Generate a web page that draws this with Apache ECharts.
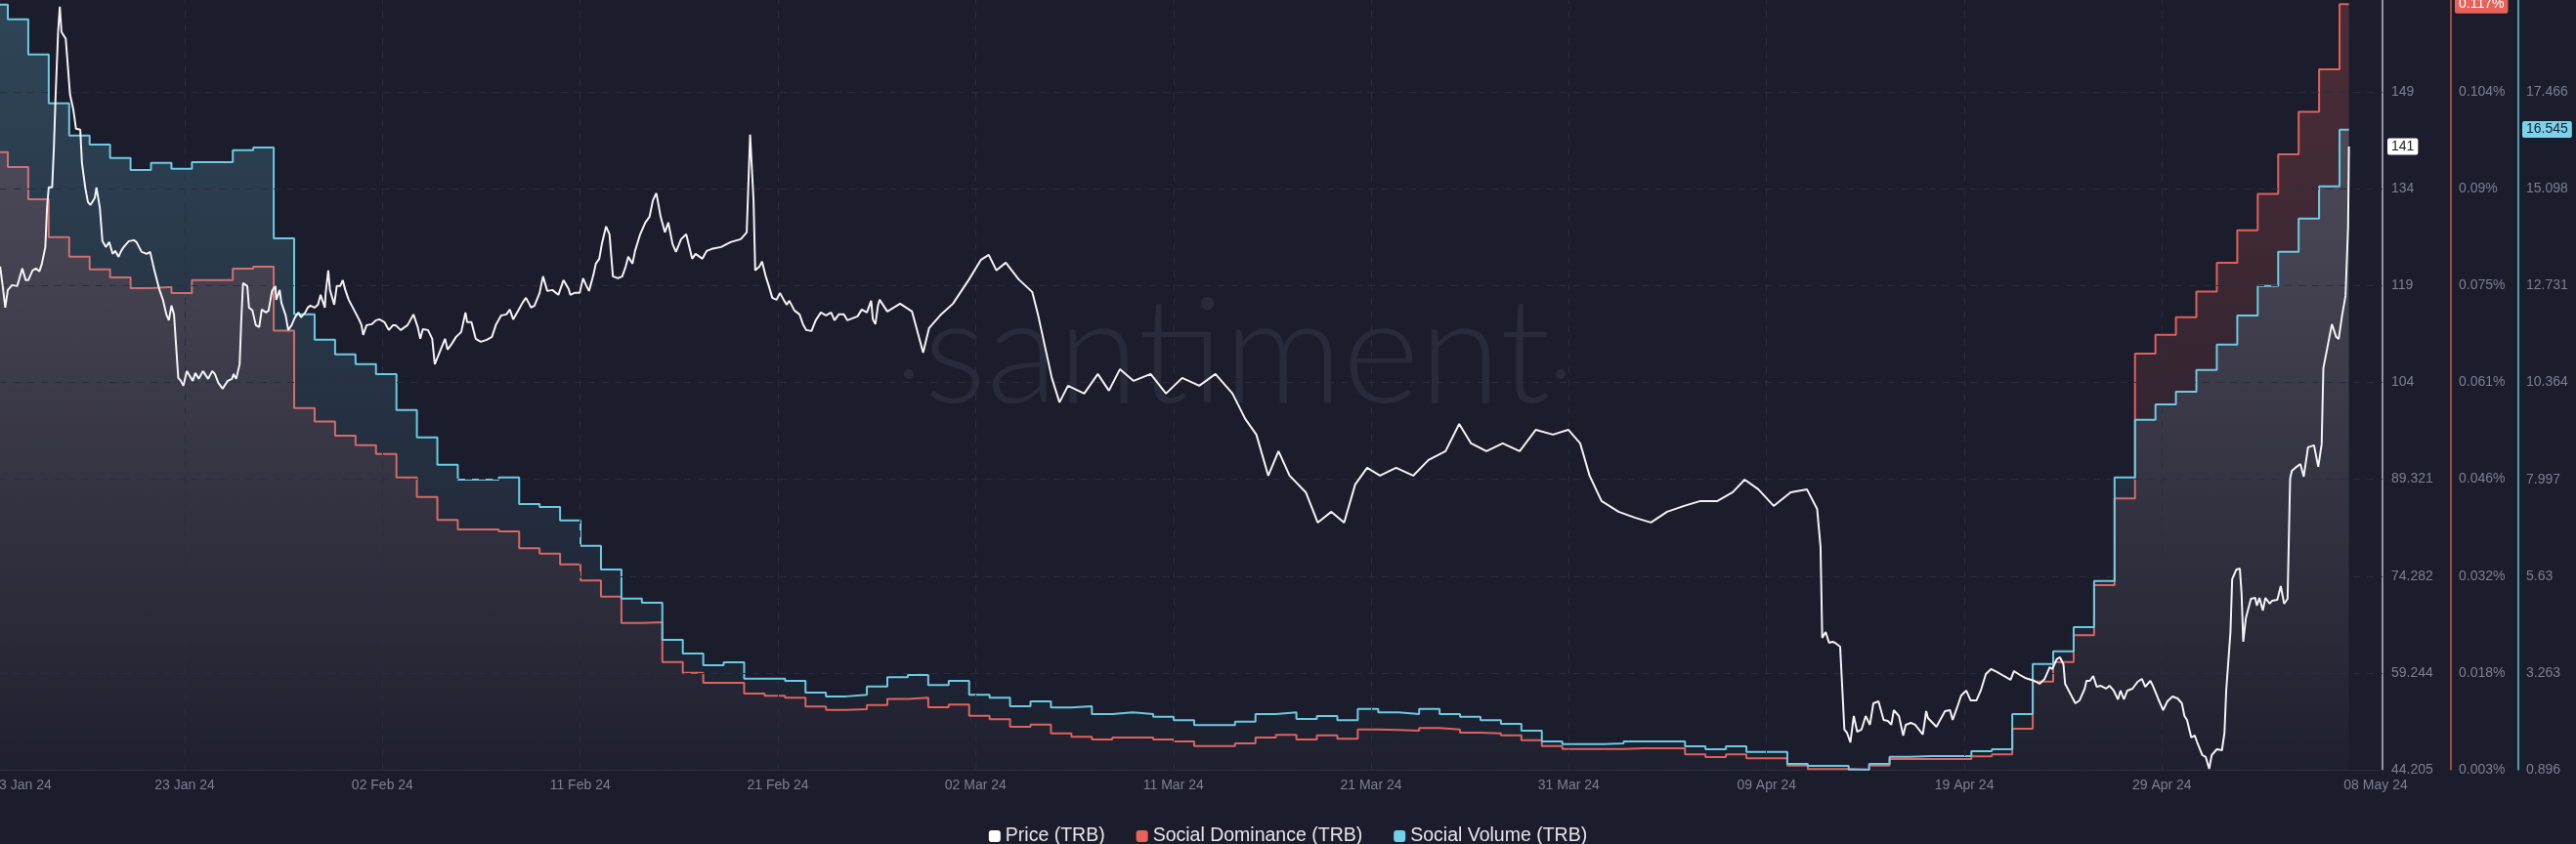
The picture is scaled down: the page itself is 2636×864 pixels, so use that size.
<!DOCTYPE html>
<html><head><meta charset="utf-8">
<script src="https://cdn.jsdelivr.net/npm/echarts@6.0.0/dist/echarts.min.js"></script>
<style>html,body{margin:0;padding:0;background:#1b1d2c;overflow:hidden}#c{width:2636px;height:864px}</style>
</head><body><div id="c"></div>
<script>
// Time is measured in hours from 13 Jan 2024 00:00
const xLabels = ['13 Jan 24','23 Jan 24','02 Feb 24','11 Feb 24','21 Feb 24','02 Mar 24','11 Mar 24','21 Mar 24','31 Mar 24','09 Apr 24','19 Apr 24','29 Apr 24','08 May 24'];
const xLabelHours = [40, 231.6, 463.6, 695.6, 927.6, 1159.6, 1391.7, 1623.6, 1855.6, 2087.7, 2319.7, 2551.6, 2802.4];

const priceTicks = [44.205, 59.244, 74.282, 89.321, 104.36, 119.40, 134.44, 149.47];
const domTicks = [0.0033, 0.01768, 0.03206, 0.04644, 0.06082, 0.0752, 0.08958, 0.10396];
const volTicks = [0.896, 3.263, 5.63, 7.997, 10.364, 12.731, 15.098, 17.466];
const priceMax = 163.75, domMax = 0.11761, volMax = 19.714;

// daily values, day 0 = 13 Jan 2024
const volumeDaily = [19.60,19.24,18.38,17.19,16.40,16.18,15.85,15.56,15.73,15.59,
15.75,15.75,16.04,16.11,13.89,12.03,11.41,11.05,10.81,10.57,
9.69,9.02,8.35,7.99,7.99,8.04,7.39,7.32,6.99,6.37,
5.79,5.08,4.98,4.07,3.74,3.45,3.52,3.12,3.12,3.07,
2.78,2.69,2.73,2.93,3.16,3.21,2.97,3.07,2.73,2.66,
2.45,2.57,2.42,2.45,2.26,2.30,2.26,2.19,2.11,1.99,
1.99,2.07,2.26,2.30,2.14,2.21,2.11,2.38,2.30,2.26,
2.38,2.26,2.19,2.11,2.02,1.85,1.59,1.52,1.52,1.54,
1.59,1.59,1.59,1.47,1.40,1.47,1.33,1.33,1.04,0.99,
0.99,0.90,1.04,1.21,1.23,1.23,1.23,1.35,1.40,2.26,
3.48,3.79,4.38,5.51,8.04,9.45,9.83,10.14,10.67,11.29,
12.00,12.72,13.56,14.37,15.16,16.545];

const dominanceDaily = [0.0950,0.0928,0.0880,0.0824,0.0795,0.0776,0.0764,0.0748,0.0750,0.0741,
0.0760,0.0760,0.0777,0.0780,0.0685,0.0570,0.0550,0.0529,0.0515,0.0502,
0.0467,0.0438,0.0404,0.0390,0.0390,0.0387,0.0362,0.0354,0.0338,0.0314,
0.0290,0.0251,0.0252,0.0193,0.0177,0.0162,0.0162,0.0146,0.0143,0.0140,
0.0127,0.0122,0.0123,0.0129,0.0138,0.0140,0.0126,0.0130,0.0113,0.0108,
0.0097,0.0100,0.0087,0.0082,0.0078,0.0081,0.0081,0.0078,0.0075,0.0068,
0.0068,0.0072,0.0081,0.0085,0.0078,0.0084,0.0079,0.0093,0.0092,0.0091,
0.0095,0.0093,0.0088,0.0087,0.0084,0.0077,0.0068,0.0064,0.0064,0.0064,
0.0065,0.0065,0.0065,0.0056,0.0052,0.0056,0.0050,0.0050,0.0039,0.0034,
0.0034,0.0033,0.0039,0.0049,0.0049,0.0049,0.0049,0.0053,0.0056,0.0094,
0.0164,0.0193,0.0233,0.0307,0.0436,0.0651,0.0679,0.0705,0.0743,0.0786,
0.0834,0.0888,0.0947,0.1010,0.1073,0.1170];
const socialEndHour = 2771;

const priceHours = [15,18,21,24,29,35,41,45,48,53,57,61,64,68,70,72,76,78,80,83,85,87,92,93,97,101,104,109,111,115,118,121,126,128,132,135,139,143,147,150,154,157,160,166,172,175,181,187,191,196,202,206,210,213,216,219,224,227,230,234,236,241,244,248,253,259,264,267,271,276,282,287,289,292,296,298,300,305,307,311,315,319,322,327,330,334,338,339,343,345,350,353,357,361,365,368,373,376,379,384,388,391,396,397,400,402,407,410,414,417,420,424,430,436,439,441,445,451,456,460,466,471,476,479,485,493,500,505,508,511,517,522,525,531,537,540,545,550,556,561,563,568,573,579,586,592,597,603,609,613,617,623,628,632,638,642,648,652,657,663,670,676,682,684,689,695,699,703,706,711,714,718,721,
726,730,734,740,745,749,752,757,760,766,772,777,781,785,790,795,799,804,808,814,820,827,831,839,844,850,861,872,884,891,895,899,901,906,909,913,917,921,926,930,935,938,941,947,953,957,961,967,972,978,984,990,994,999,1005,1009,1015,1021,1026,1032,1037,1039,1042,1045,1047,
1056,1071,1085,1098,1105,1118,1133,1152,1166,1175,1184,1195,1210,1226,1233,1249,1258,1268,1287,1303,1316,1329,1345,1365,1383,1402,1422,1441,1461,1476,1489,1503,1515,1528,1547,1561,1577,1592,1605,1619,1634,1653,1673,1691,1711,1727,1741,1759,1778,1798,1817,1837,1855,1869,1880,1894,1914,1933,1952,1971,1991,2010,2030,2048,2062,2078,2096,2116,2135,2147,
2151,2153,2157,2161,2165,2168,2174,2179,2182,2186,2190,2194,2199,2204,2209,2213,2219,2225,2230,2234,2237,2243,2248,2251,2257,2262,2271,2275,2277,2287,2297,2303,2306,2311,2316,2322,2327,2334,2339,2345,2351,2358,2366,2374,2378,2385,2391,2402,2408,2414,2420,2423,2428,2432,2436,2438,2444,2450,2455,2461,2463,2467,2471,2475,2480,2486,2490,2495,2500,2503,2507,2511,2517,2523,2528,2532,2538,2541,2547,2553,2558,2564,2570,2575,2578,2581,2586,2590,2593,2599,2603,2607,2610,2616,2622,2625,2627,2632,2634,2639,2643,2645,2647,2650,2656,2661,2663,2666,2670,2673,2678,2681,2687,2691,2695,2699,2702,2704,2708,2714,2718,2723,2730,2735,2739,2741,2747,2751,2756,2759,2763,2767,2770,2771];

const priceValues = [122.36,119.32,115.98,118.71,119.47,119.32,122.05,120.23,120.23,121.75,122.05,121.60,122.81,125.39,131.46,134.65,134.65,140.57,148.61,158.78,162.72,158.78,157.71,157.41,149.06,146.64,143.75,143.60,138.44,134.49,132.37,131.92,132.98,134.65,131.46,126.30,125.39,126.15,124.33,124.78,123.87,124.78,125.39,126.30,126.45,126.15,124.63,124.33,124.63,121.75,118.71,117.20,114.92,114.01,116.29,114.92,105.06,104.60,103.84,106.12,105.82,104.60,105.82,104.91,106.12,104.91,106.12,105.66,104.30,103.39,104.60,104.91,105.66,104.91,107.18,114.16,119.78,119.32,115.98,115.53,113.25,112.95,115.68,115.22,115.53,118.56,119.32,117.20,118.71,116.74,114.77,112.49,113.25,114.47,115.22,114.47,115.22,115.98,116.29,115.98,116.44,117.96,115.98,118.26,121.75,118.71,116.44,119.32,119.32,120.23,118.71,117.20,115.68,114.16,113.25,111.73,113.25,113.40,114.01,114.16,113.71,112.49,113.25,113.25,112.49,113.25,114.92,112.95,111.13,112.64,112.49,111.13,107.18,109.15,111.13,109.46,110.37,111.43,112.19,115.22,113.71,113.71,111.13,110.67,110.97,111.43,113.40,114.77,114.92,115.68,114.16,115.53,116.74,117.50,115.98,116.29,118.26,120.84,118.56,118.71,117.96,120.23,118.87,117.96,118.26,118.26,120.53,119.32,118.56,120.99,122.81,123.57,125.85,
128.58,127.37,120.84,120.53,120.84,122.36,123.87,122.81,124.78,127.37,129.19,130.10,132.67,133.74,130.10,127.67,129.19,125.85,124.63,126.60,127.37,123.57,124.33,123.57,124.78,125.09,125.39,126.15,126.60,127.67,142.84,132.67,121.75,122.36,123.12,120.99,119.32,117.50,117.20,118.26,117.04,116.44,117.04,115.53,114.92,113.40,112.49,112.34,114.01,115.22,114.77,115.22,114.01,114.92,114.92,114.01,114.31,114.62,115.68,115.22,117.04,114.16,113.40,116.29,117.20,
115.37,116.59,115.37,109.00,112.80,114.77,116.59,120.38,123.42,124.18,121.75,122.96,120.38,118.41,114.77,105.06,101.26,103.84,102.63,105.66,103.09,106.42,104.60,105.66,102.63,105.06,103.84,105.66,102.63,98.68,96.26,89.88,93.68,89.88,87.30,82.60,84.27,82.60,88.52,91.10,89.88,91.10,89.88,92.31,93.68,97.92,94.89,93.68,94.89,93.68,97.01,96.26,97.01,94.89,89.88,85.94,84.27,83.36,82.60,84.27,85.18,85.94,85.94,87.30,89.27,87.76,85.18,87.30,87.76,84.72,
78.80,64.69,65.60,63.93,64.08,63.93,63.33,50.43,49.97,48.45,52.55,50.12,50.43,52.55,51.19,54.52,54.83,51.94,51.79,51.19,53.46,52.55,49.52,51.19,51.49,51.19,49.67,53.31,52.25,50.88,53.31,53.46,51.94,53.77,55.74,56.50,54.98,54.98,56.50,59.08,59.84,59.38,58.77,58.17,59.53,58.92,58.47,58.01,57.56,58.32,60.14,59.84,61.35,61.66,60.59,57.56,56.04,54.52,54.98,56.80,58.01,58.01,58.77,57.10,57.25,56.80,57.25,56.50,55.13,56.50,55.13,56.50,56.80,57.86,58.32,57.10,58.01,57.25,55.28,53.46,54.83,55.59,55.28,54.52,52.55,51.94,49.21,49.52,48.45,46.48,46.18,44.36,46.48,47.39,47.24,49.97,56.50,65.60,73.80,75.31,75.46,71.67,64.08,67.73,70.76,70.91,69.70,70.91,68.94,70.91,70.00,70.46,70.61,72.73,70.00,70.76,89.43,90.64,91.10,91.70,89.73,94.28,94.59,91.25,94.74,106.57,110.67,113.40,111.43,111.13,114.77,117.80,128.43,141];

const BG = '#1b1d2c';
const LABEL = '#7b8093';
const GRIDC = '#2a2d3f';
const FONT = 'Liberation Sans, Arial, sans-serif';

function nearestLabel(v){let b=0;for(let i=1;i<xLabelHours.length;i++){if(Math.abs(xLabelHours[i]-v)<Math.abs(xLabelHours[b]-v))b=i;}return xLabels[b];}
function fmtPrice(v){return v>=100?String(Math.floor(v)):(+v.toFixed(3)).toString();}
function fmtDom(v){return (+v.toFixed(3)).toString()+'%';}
function fmtVol(v){return (+v.toFixed(3)).toString();}

function stepData(arr){const d=arr.map((v,k)=>[k*24,v]);d.push([socialEndHour,arr[arr.length-1]]);return d;}
const priceData = priceHours.map((h,i)=>[h,priceValues[i]]);

function grad(r,g,b){return new echarts.graphic.LinearGradient(0,0,0,1,[{offset:0,color:`rgba(${r},${g},${b},0.34)`},{offset:1,color:`rgba(${r},${g},${b},0.02)`}]);}

const chart = echarts.init(document.getElementById('c'),null,{renderer:'canvas'});
const badge = (bg,fg,dist,fmt)=>({show:true,position:'end',distance:dist,formatter:fmt,backgroundColor:bg,color:fg,fontSize:14,fontFamily:FONT,padding:[2,4,1,4],borderRadius:2});
const hidden = {color:'rgba(0,0,0,0)',width:0};
const wm = '#282b3b';

chart.setOption({
  backgroundColor: BG,
  animation:false,
  textStyle:{fontFamily:FONT},
  grid:{left:0,right:198,top:0,bottom:76,containLabel:false,outerBoundsMode:'none'},
  legend:{
    data:['Price (TRB)','Social Dominance (TRB)','Social Volume (TRB)'],
    left:'center', top:841, icon:'roundRect', itemWidth:12, itemHeight:12, itemGap:32,
    textStyle:{color:'#e4e5ea',fontSize:19.5}, selectedMode:false
  },
  xAxis:{
    type:'value', min:14.83, max:2810.4,
    axisLine:{show:true,onZero:false,lineStyle:{color:GRIDC}},
    axisTick:{show:false},
    splitLine:{show:false},
    axisLabel:{customValues:xLabelHours,formatter:nearestLabel,color:LABEL,fontSize:14,margin:9}
  },
  yAxis:[
    {type:'value',position:'right',offset:0,min:priceTicks[0],max:priceMax,
     axisLine:{show:true,onZero:false,lineStyle:{color:'#b9bbc4',width:1.5}},axisTick:{show:false},splitLine:{show:false},
     axisLabel:{customValues:priceTicks,formatter:fmtPrice,color:LABEL,fontSize:14,margin:9}},
    {type:'value',position:'right',offset:70,min:domTicks[0],max:domMax,
     axisLine:{show:true,onZero:false,lineStyle:{color:'#cf5853',width:1.5}},axisTick:{show:false},splitLine:{show:false},
     axisLabel:{customValues:domTicks,formatter:fmtDom,color:LABEL,fontSize:14,margin:8}},
    {type:'value',position:'right',offset:139,min:volTicks[0],max:volMax,
     axisLine:{show:true,onZero:false,lineStyle:{color:'#62c4df',width:1.5}},axisTick:{show:false},splitLine:{show:false},
     axisLabel:{customValues:volTicks,formatter:fmtVol,color:LABEL,fontSize:14,margin:8}}
  ],
  graphic:[
    {id:'wm',type:'text',left:945,top:288,z:0,silent:true,style:{text:'santiment',fill:wm,font:'300 151px Lato, "Open Sans", sans-serif'}},
    {id:'d1',type:'circle',shape:{cx:930,cy:383,r:5},z:0,silent:true,style:{fill:wm}},
    {id:'d2',type:'circle',shape:{cx:1597,cy:383,r:5},z:0,silent:true,style:{fill:wm}}
  ],
  series:[
    {name:'grid',type:'line',data:[],yAxisIndex:0,z:1,silent:true,
     markLine:{silent:true,symbol:'none',label:{show:false},animation:false,
       lineStyle:{color:GRIDC,type:[7,7],width:1},
       data:[...priceTicks.slice(1).map(v=>({yAxis:v})),...xLabelHours.slice(1,-1).map(h=>({xAxis:h}))]}},
    {name:'Social Dominance (TRB)',type:'line',yAxisIndex:1,step:'end',data:stepData(dominanceDaily),
     color:'#e8625a',showSymbol:false,z:2,lineStyle:{color:'#e0605a',width:2},areaStyle:{color:grad(232,98,90)}},
    {name:'Social Volume (TRB)',type:'line',yAxisIndex:2,step:'end',data:stepData(volumeDaily),
     color:'#72d0ea',showSymbol:false,z:3,lineStyle:{color:'#6ccae3',width:2},areaStyle:{color:grad(110,200,228)},
     markLine:{silent:true,symbol:'none',lineStyle:hidden,data:[{yAxis:volumeDaily[volumeDaily.length-1]}],
       label:badge('#7ad3ea','#1b1d2c',143,()=>String(volumeDaily[volumeDaily.length-1]))}},
    {name:'Price (TRB)',type:'line',yAxisIndex:0,data:priceData,color:'#ffffff',showSymbol:false,z:5,
     lineStyle:{color:'#f3f3f5',width:2},
     markLine:{silent:true,symbol:'none',lineStyle:hidden,data:[{yAxis:priceValues[priceValues.length-1]}],
       label:badge('#ffffff','#1b1d2c',5,()=>String(Math.round(priceValues[priceValues.length-1])))}}
  ]
});

// Social Dominance last-value badge, placed through the dominance axis scale
const lastDom = dominanceDaily[dominanceDaily.length-1];
const domY = chart.convertToPixel({yAxisIndex:1}, lastDom);
const domX = chart.convertToPixel({xAxisIndex:0}, 2810.4) + 74;
chart.setOption({graphic:[{id:'domBadge',type:'text',x:domX,y:domY,z:100,silent:true,
  style:{text:fmtDom(lastDom),fill:'#ffffff',font:'14px '+FONT,align:'left',verticalAlign:'middle',
         backgroundColor:'#e8625a',padding:[3,4,2,4],borderRadius:2}}]});
</script>
</body></html>
